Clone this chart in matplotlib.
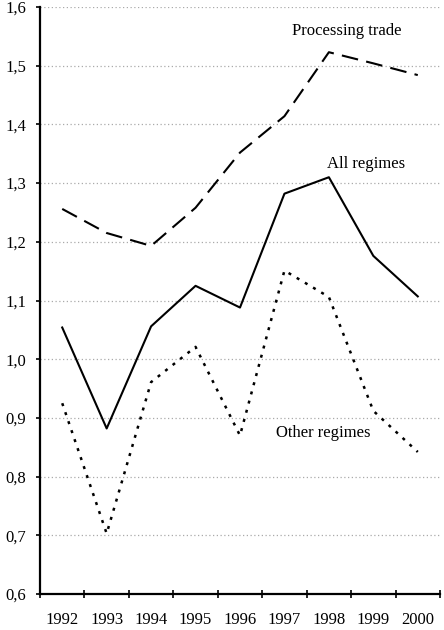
#!/usr/bin/env python3

# Relative price index by trade regime, 1992-2000

import numpy as np
import matplotlib
matplotlib.use('Agg')
import matplotlib.pyplot as plt
from matplotlib.patches import Rectangle
from matplotlib.ticker import FuncFormatter

years = ['1992', '1993', '1994', '1995', '1996', '1997', '1998', '1999', '2000']
processing = [1.256, 1.215, 1.193, 1.258, 1.352, 1.414, 1.523, 1.504, 1.484]
all_regimes = [1.054, 0.882, 1.056, 1.125, 1.088, 1.282, 1.310, 1.176, 1.107]
other_regimes = [0.925, 0.703, 0.961, 1.021, 0.870, 1.151, 1.106, 0.912, 0.842]

plt.rcParams['font.family'] = ['Liberation Serif', 'DejaVu Serif']

fig = plt.figure(figsize=(4.44, 6.3), dpi=100)
ax = fig.add_axes([40 / 444, 36 / 630, 400 / 444, 587 / 630])

x = np.arange(len(years))
ax.plot(x, processing, color='black', lw=1.5, linestyle=(0, (8, 4)))
ax.plot(x, all_regimes, color='black', lw=1.5)
ax.plot(x, other_regimes, color='black', lw=1.8, linestyle=(0, (1.2, 2.6)))

ax.set_ylim(0.6, 1.6)
ax.set_xlim(-0.5, len(years) - 0.5)
ax.set_yticks(np.arange(0.6, 1.61, 0.1))
ax.yaxis.set_major_formatter(FuncFormatter(lambda v, p: f'{v:.1f}'.replace('.', ',')))
ax.yaxis.grid(True, color='#aaaaaa', linestyle=(0, (1, 2)), lw=0.9)
ax.set_axisbelow(True)

ax.set_xticks(np.arange(-0.5, len(years), 1.0))
ax.set_xticklabels([])
ax.set_xticks(x, minor=True)
ax.set_xticklabels(years, minor=True)
ax.tick_params(axis='x', which='major', direction='inout', length=6, width=1.2)
ax.tick_params(axis='x', which='minor', length=0, pad=13, labelsize=12)
ax.tick_params(axis='y', direction='out', length=3, width=1.2, labelsize=12, pad=7)

for side in ['top', 'right']:
    ax.spines[side].set_visible(False)
for side in ['left', 'bottom']:
    ax.spines[side].set_linewidth(1.6)

t = ax.text(5.18, 1.559, 'Processing trade', fontsize=12, ha='left', va='center')
clip = Rectangle((5.0, 1.5), 2.65, 0.1, transform=ax.transData, visible=False)
ax.add_patch(clip)
t.set_clip_path(clip)
ax.text(6.84, 1.332, 'All regimes', fontsize=12, ha='center', va='center')
ax.text(5.87, 0.874, 'Other regimes', fontsize=12, ha='center', va='center')

plt.savefig('out.png', dpi=100)
